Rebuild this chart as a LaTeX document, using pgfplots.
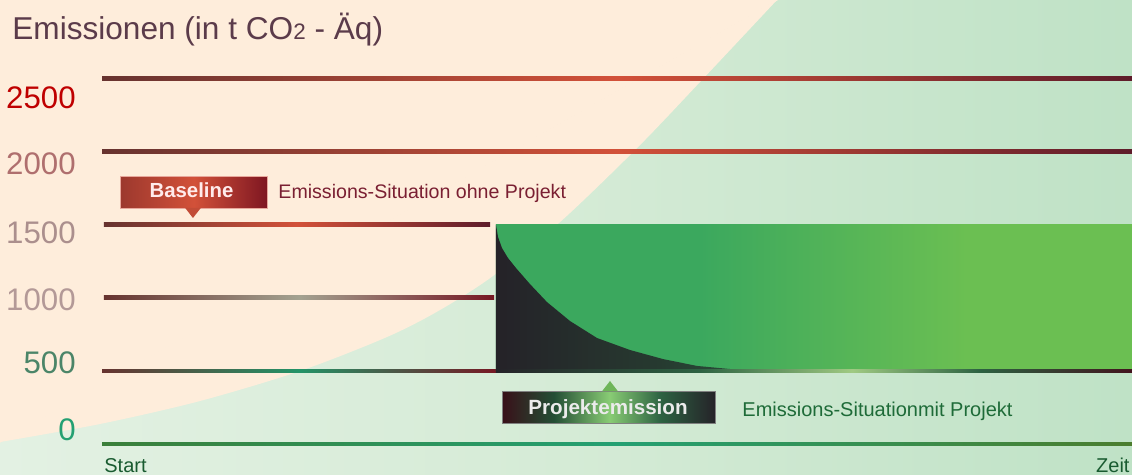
\documentclass[border=0pt]{standalone}
\usepackage{fontspec}
\setmainfont{Liberation Sans}
\usepackage{pgfplots}
\pgfplotsset{compat=1.18}

\definecolor{bgA}{HTML}{E3F1E3}
\definecolor{bgB}{HTML}{D5EBD6}
\definecolor{bgC}{HTML}{BFE2C6}
\definecolor{peach}{HTML}{FEEDDB}
\definecolor{brn}{HTML}{67332F}
\definecolor{hot}{HTML}{D25139}
\definecolor{mar}{HTML}{5E1C2A}
\definecolor{gry}{HTML}{A3A290}
\definecolor{teal}{HTML}{239468}
\definecolor{gA}{HTML}{3BA85E}
\definecolor{gB}{HTML}{6BBF52}
\definecolor{dk}{HTML}{252228}
\definecolor{dkm}{HTML}{263A30}
\definecolor{dkr}{HTML}{2D6242}
\definecolor{zA}{HTML}{3B7F3A}
\definecolor{zB}{HTML}{24A072}
\definecolor{zC}{HTML}{4B7D2E}
\definecolor{titlecol}{HTML}{5B3B4A}
\definecolor{redtxt}{HTML}{7A1F32}
\definecolor{grntxt}{HTML}{1E6B38}

% colour runs along the strips, 25bp..75bp = box of the path
\pgfdeclarehorizontalshading{blockgreen}{100bp}{color(0bp)=(gA); color(41bp)=(gA); color(62bp)=(gB); color(100bp)=(gB)}
\pgfdeclarehorizontalshading{bottomstrip}{100bp}{color(0bp)=(dk); color(25bp)=(dk); color(41bp)=(dkr); color(53bp)=(green!45!lime!40!gray!70!white); color(63bp)=(dkr); color(75bp)=(mar!70!black); color(100bp)=(mar!70!black)}
\pgfdeclarehorizontalshading{projbox}{100bp}{color(0bp)=(mar!60!black); color(25bp)=(mar!60!black); color(37bp)=(dkr!80!black); color(50bp)=(gB!80!white); color(62bp)=(dkr); color(75bp)=(dk); color(100bp)=(dk)}

\begin{document}
\begin{tikzpicture}
\begin{axis}[name=ax,
 width=566pt,height=237pt,scale only axis,
 xmin=-9.903,xmax=100,ymin=-205.2,ymax=3037,
 hide axis,clip=true]
% background
\addplot[draw=none,left color=bgA,right color=bgC,middle color=bgB] coordinates {
 (-9.903,-205.2) (100,-205.2) (100,3037) (-9.903,3037)};
\addplot[draw=none,fill=peach,smooth] coordinates {
 (-9.903,13.7) (-0.194,136.8) (9.515,294.1) (19.22,499.3) (27.67,731.9)
 (32.82,916.6) (37.96,1149) (44.47,1518) (52.04,2031) (58.06,2476) (65.53,3037)};
\addplot[draw=peach,line width=0.6pt,fill=peach] coordinates {
 (-9.903,13.7) (65.53,3037) (-9.903,3037)} -- cycle;
% grid lines
\addplot[draw=none,left color=brn,right color=mar,middle color=hot] coordinates {
 (0,2487) (100,2487) (100,2513) (0,2513)};
\addplot[draw=none,left color=brn,right color=mar,middle color=hot] coordinates {
 (0,1987) (100,1987) (100,2013) (0,2013)};
\addplot[draw=none,left color=brn,right color=mar,middle color=hot] coordinates {
 (0.19,1487) (37.67,1487) (37.67,1513) (0.19,1513)};
\addplot[draw=none,left color=brn,right color=mar!85!red,middle color=gry] coordinates {
 (0.19,987) (38.06,987) (38.06,1013) (0.19,1013)};
\addplot[draw=none,left color=brn,right color=mar!85!red,middle color=teal] coordinates {
 (0,487) (38.25,487) (38.25,513) (0,513)};
\addplot[draw=none,left color=zA,right color=zC,middle color=zB] coordinates {
 (0,-13) (100,-13) (100,13) (0,13)};
% project block
\addplot[draw=none,shade,shading=blockgreen] coordinates {
 (38.25,500) (100,500) (100,1500) (38.25,1500)};
\addplot[draw=none,left color=dk,right color=dkr,middle color=dkm] coordinates {
 (38.25,500) (38.25,1500) (38.45,1416) (38.83,1341) (39.42,1272) (40.19,1204)
 (41.55,1094) (43.20,971) (45.44,841) (48.06,725) (51.26,643) (54.47,581)
 (57.77,534) (60.97,513) (65.83,503) (70,500)};
\addplot[draw=none,shade,shading=bottomstrip] coordinates {
 (38.25,487) (100,487) (100,513) (38.25,513)};
% Baseline label
\addplot[draw=hot!50!white,line width=0.5pt,left color=hot!40!brn!90!red,right color=mar!80!red,middle color=hot] coordinates {
 (1.84,1614) (16.02,1614) (16.02,1833) (1.84,1833)} -- cycle;
\addplot[draw=none,fill=hot!85!brn] coordinates {(8.06,1616) (9.61,1616) (8.83,1546)};
\node[anchor=base,inner sep=0,text=white!92!red,font=\fontsize{10.2}{12}\selectfont\bfseries] at (axis cs:8.69,1687) {Baseline};
\node[anchor=base west,inner sep=0,text=redtxt,font=\fontsize{9.8}{12}\selectfont] at (axis cs:17.09,1676) {Emissions-Situation ohne Projekt};
% Projektemission label
\addplot[draw=gray,line width=0.5pt,shade,shading=projbox] coordinates {
 (38.93,143.6) (59.61,143.6) (59.61,362.5) (38.93,362.5)} -- cycle;
\addplot[draw=none,fill=gB!85!gray] coordinates {(48.54,360) (50.10,360) (49.32,431)};
\node[anchor=base,inner sep=0,text=white!92!black,font=\fontsize{10.3}{12}\selectfont\bfseries] at (axis cs:49.13,205) {Projektemission};
\node[anchor=base west,inner sep=0,text=grntxt,font=\fontsize{10}{12}\selectfont] at (axis cs:62.14,185) {Emissions-Situationmit Projekt};
% texts
\node[anchor=base west,inner sep=0,text=titlecol,font=\fontsize{15.8}{18}\selectfont] at (axis cs:-8.74,2768) {Emissionen (in t CO{\fontsize{11.2}{12}\selectfont 2} - Äq)};
\node[anchor=east,inner sep=0,text=red!75!black,font=\fontsize{15.6}{18}\selectfont] at (axis cs:-2.52,2367) {2500};
\node[anchor=east,inner sep=0,text=hot!40!mar!70!white,font=\fontsize{15.6}{18}\selectfont] at (axis cs:-2.52,1915) {2000};
\node[anchor=east,inner sep=0,text=brn!55!white,font=\fontsize{15.6}{18}\selectfont] at (axis cs:-2.52,1443) {1500};
\node[anchor=east,inner sep=0,text=brn!50!white,font=\fontsize{15.6}{18}\selectfont] at (axis cs:-2.52,985) {1000};
\node[anchor=east,inner sep=0,text=teal!70!brn!90!white,font=\fontsize{15.6}{18}\selectfont] at (axis cs:-2.52,554) {500};
\node[anchor=east,inner sep=0,text=zB,font=\fontsize{15.6}{18}\selectfont] at (axis cs:-2.52,96) {0};
\node[anchor=base west,inner sep=0,text=grntxt!85!black,font=\fontsize{10}{12}\selectfont] at (axis cs:0.19,-195) {Start};
\node[anchor=base east,inner sep=0,text=grntxt!85!black,font=\fontsize{10}{12}\selectfont] at (axis cs:99.8,-195) {Zeit};
\end{axis}
\pgfresetboundingbox
\path[use as bounding box] (ax.south west) rectangle (ax.north east);
\end{tikzpicture}
\end{document}
